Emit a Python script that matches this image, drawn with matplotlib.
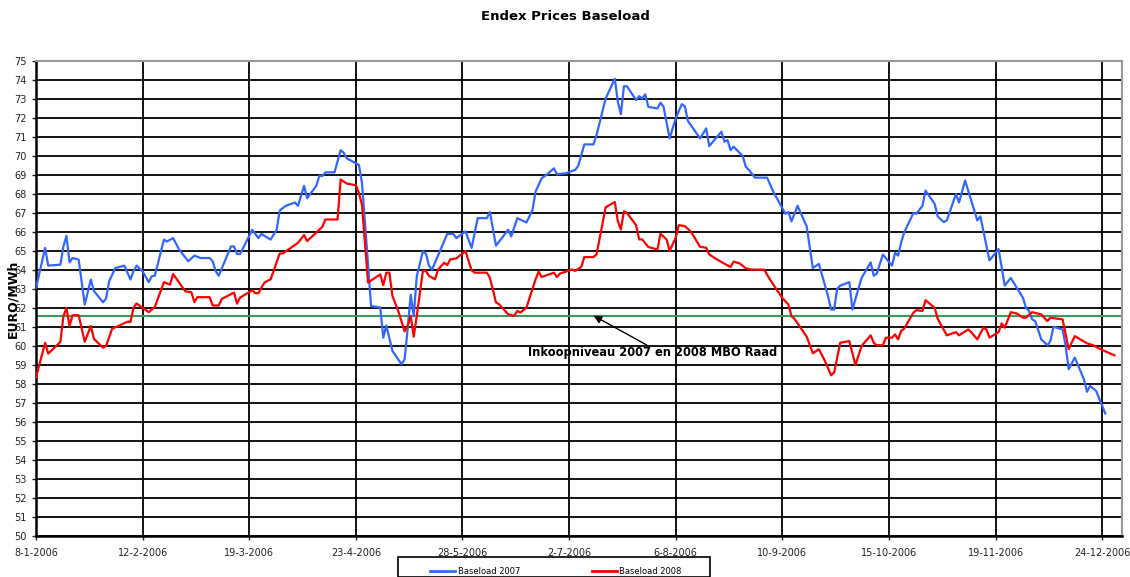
import numpy as np
import pandas as pd
import matplotlib
matplotlib.use("Agg")
import matplotlib.pyplot as plt
import matplotlib.dates as mdates
from matplotlib.lines import Line2D
from matplotlib.patches import Rectangle

# --- data ---
start_date = "2006-01-08"

# Baseload 2007: days after 8-1-2006 and price (EURO/MWh)
days_2007 = [0, 3, 4, 8, 9, 10, 11, 12, 14, 16, 18, 19, 22, 23, 24, 26, 29, 31, 32, 33,
             35, 37, 38, 39, 42, 43, 45, 47, 50, 52, 54, 57, 58, 59, 60, 64, 65, 66, 67, 71,
             73, 74, 77, 79, 80, 82, 85, 86, 88, 89, 92, 93, 94, 95, 98, 100, 101, 102, 104, 106,
             107, 108, 110, 113, 114, 115, 117, 120, 121, 122, 123, 124, 125, 127, 128, 129, 130, 135, 137, 138,
             141, 143, 145, 148, 149, 151, 155, 156, 158, 161, 163, 164, 166, 168, 170, 171, 174, 177, 178, 180,
             183, 184, 187, 190, 191, 192, 193, 194, 197, 198, 199, 200, 201, 204, 205, 206, 208, 210, 212, 213,
             214, 218, 220, 221, 225, 226, 227, 228, 229, 232, 233, 234, 236, 240, 242, 245, 246, 247, 248, 250,
             253, 255, 257, 260, 261, 262, 263, 264, 267, 268, 271, 274, 275, 276, 278, 281, 282, 283, 284, 285,
             288, 289, 291, 292, 295, 296, 298, 299, 302, 303, 305, 309, 310, 313, 316, 318, 320, 324, 325, 326,
             327, 328, 330, 332, 333, 334, 337, 338, 339, 341, 344, 345, 346, 348, 351]
price_2007 = [63.06, 65.16, 64.23, 64.28, 65.24, 65.8, 64.4, 64.63, 64.55, 62.18, 63.5, 62.9, 62.3, 62.5, 63.4, 64.1, 64.23, 63.5, 63.93, 64.23,
              63.93, 63.36, 63.67, 63.7, 65.6, 65.5, 65.68, 65.07, 64.46, 64.76, 64.63, 64.63, 64.46, 63.93, 63.7, 65.24, 65.24, 64.84, 64.84, 66.12,
              65.68, 65.9, 65.6, 66.12, 67.13, 67.38, 67.55, 67.38, 68.43, 67.78, 68.43, 68.95, 68.95, 69.14, 69.14, 70.31, 70.17, 69.88, 69.7, 69.53,
              68.6, 66.47, 62.1, 62.03, 60.44, 61.08, 59.74, 59.04, 59.3, 60.9, 62.7, 61.57, 63.67, 64.98, 64.86, 64.23, 64.02, 65.9, 65.9, 65.68,
              66.03, 65.16, 66.73, 66.73, 67.05, 65.28, 66.12, 65.77, 66.73, 66.5, 67.17, 68.13, 68.83, 69.06, 69.35, 69.04, 69.09, 69.27, 69.48, 70.61,
              70.61, 71.1, 73.02, 74.07, 72.85, 72.2, 73.67, 73.67, 72.94, 73.15, 73.02, 73.25, 72.59, 72.5, 72.81, 72.59, 70.93, 71.98, 72.73, 72.62,
              71.84, 70.93, 71.45, 70.52, 71.28, 70.75, 70.84, 70.31, 70.49, 70.0, 69.44, 69.27, 68.86, 68.86, 68.13, 67.26, 66.96, 67.05, 66.56, 67.38,
              66.29, 64.11, 64.32, 62.62, 61.92, 61.92, 63.0, 63.18, 63.36, 61.92, 63.58, 64.4, 63.7, 63.81, 64.81, 64.23, 64.9, 64.76, 65.45, 65.98,
              66.99, 66.96, 67.38, 68.18, 67.48, 66.82, 66.52, 66.61, 68.0, 67.55, 68.71, 66.61, 66.82, 64.51, 65.1, 63.18, 63.58, 62.53, 62.01, 61.84,
              61.4, 61.31, 60.35, 60.04, 60.26, 61.01, 60.87, 60.0, 58.78, 59.39, 58.25, 57.59, 57.9, 57.64, 56.45]

# Baseload 2008
days_2008 = [0, 3, 4, 8, 9, 10, 11, 12, 14, 16, 18, 19, 22, 23, 25, 27, 30, 31, 32, 33,
             37, 39, 42, 44, 45, 49, 51, 52, 53, 57, 58, 60, 61, 65, 66, 67, 71, 72, 73, 74,
             75, 77, 78, 80, 81, 86, 88, 89, 94, 95, 99, 100, 102, 105, 106, 107, 109, 113, 114, 115,
             116, 117, 119, 121, 122, 123, 124, 125, 127, 128, 129, 131, 132, 134, 135, 136, 138, 141, 143, 144,
             148, 149, 151, 152, 155, 157, 158, 159, 161, 164, 165, 166, 170, 171, 172, 176, 177, 179, 180, 183,
             184, 187, 190, 191, 192, 193, 194, 197, 198, 199, 201, 204, 205, 207, 208, 210, 211, 213, 215, 218,
             220, 221, 223, 226, 228, 229, 231, 233, 235, 239, 241, 243, 245, 247, 248, 249, 251, 253, 255, 257,
             259, 261, 262, 264, 267, 269, 271, 274, 275, 276, 278, 279, 281, 282, 283, 284, 285, 288, 289, 291,
             292, 295, 296, 299, 302, 303, 306, 307, 309, 311, 312, 313, 316, 317, 318, 320, 322, 324, 325, 327,
             330, 332, 333, 337, 338, 339, 341, 345, 347, 350, 354]
price_2008 = [58.34, 60.17, 59.6, 60.21, 61.57, 62.0, 61.05, 61.62, 61.62, 60.23, 61.05, 60.38, 59.91, 60.0, 60.91, 61.05, 61.28, 61.26, 62.01, 62.24,
              61.78, 62.05, 63.36, 63.23, 63.79, 62.88, 62.83, 62.31, 62.57, 62.57, 62.13, 62.13, 62.48, 62.81, 62.23, 62.55, 62.93, 62.78, 62.78, 63.07,
              63.34, 63.51, 63.95, 64.87, 64.87, 65.43, 65.84, 65.52, 66.27, 66.66, 66.66, 68.76, 68.55, 68.46, 68.06, 67.44, 63.34, 63.77, 63.2, 63.86,
              63.86, 62.64, 61.8, 60.77, 61.06, 61.59, 60.49, 61.59, 63.95, 63.95, 63.69, 63.51, 64.03, 64.38, 64.26, 64.56, 64.61, 65.0, 63.98, 63.86,
              63.86, 63.6, 62.29, 62.2, 61.67, 61.59, 61.85, 61.76, 62.02, 63.51, 63.91, 63.63, 63.86, 63.63, 63.81, 64.03, 63.95, 64.16, 64.68, 64.68,
              64.82, 67.3, 67.58, 66.57, 66.13, 67.09, 67.0, 66.36, 65.61, 65.61, 65.21, 65.08, 65.91, 65.61, 65.0, 65.7, 66.36, 66.31, 66.01, 65.22,
              65.17, 64.82, 64.61, 64.33, 64.16, 64.44, 64.35, 64.09, 64.02, 64.02, 63.49, 63.0, 62.53, 62.18, 61.57, 61.43, 60.96, 60.49, 59.62, 59.83,
              59.21, 58.46, 58.6, 60.17, 60.26, 58.99, 60.0, 60.56, 60.17, 60.04, 60.04, 60.44, 60.44, 60.61, 60.35, 60.79, 60.91, 61.75, 61.89, 61.84,
              62.41, 62.01, 61.43, 60.56, 60.73, 60.56, 60.87, 60.73, 60.35, 60.96, 60.87, 60.44, 60.73, 61.19, 60.96, 61.78, 61.71, 61.49, 61.49, 61.78,
              61.66, 61.31, 61.49, 61.4, 60.61, 59.83, 60.52, 60.14, 60.04, 59.79, 59.51]

purchase_level = 61.6
tick_labels = ["8-1-2006", "12-2-2006", "19-3-2006", "23-4-2006", "28-5-2006", "2-7-2006",
               "6-8-2006", "10-9-2006", "15-10-2006", "19-11-2006", "24-12-2006"]
annotation_text = "Inkoopniveau 2007 en 2008 MBO Raad"

# --- build dates ---
t0 = pd.Timestamp(start_date)
dates_2007 = t0 + pd.to_timedelta(days_2007, unit="D")
dates_2008 = t0 + pd.to_timedelta(days_2008, unit="D")
tick_dates = pd.to_datetime(tick_labels, format="%d-%m-%Y")

W, H = 1130, 577
fig = plt.figure(figsize=(W / 100, H / 100), dpi=100)
ax = fig.add_axes([36 / W, 1 - 536 / H, (1122 - 36) / W, (536 - 61) / H])

ax.plot(dates_2007, price_2007, color="#3366FF", lw=1.6, zorder=3, label="Baseload 2007")
ax.plot(dates_2008, price_2008, color="#FF0000", lw=1.6, zorder=3, label="Baseload 2008")
ax.axhline(purchase_level, color="#3A9A5B", lw=1.5, zorder=2)

ax.set_xlim(t0, t0 + pd.Timedelta(days=356.5))
ax.set_ylim(50, 75)
ax.set_yticks(np.arange(50, 76, 1))
ax.set_xticks(tick_dates)
ax.set_xticklabels(tick_labels)
ax.tick_params(axis="both", labelsize=7, colors="#222222", length=3, width=1)
ax.tick_params(axis="x", pad=6)
ax.grid(True, color="black", lw=1.3, zorder=1)
ax.set_axisbelow(True)

for side in ["top", "right"]:
    ax.spines[side].set_color("#999999")
    ax.spines[side].set_linewidth(1.5)
for side in ["bottom", "left"]:
    ax.spines[side].set_color("black")
    ax.spines[side].set_linewidth(1.8)

ax.set_ylabel("EURO/MWh", fontsize=9, fontweight="bold")
ax.yaxis.set_label_coords(-0.0155, 0.5)
fig.text(0.5, 1 - 17 / H, "Endex Prices Baseload", ha="center", va="center",
         fontsize=9.5, fontweight="bold")

# annotation arrow pointing to purchase level
ax.annotate("", xy=(t0 + pd.Timedelta(days=183), purchase_level),
            xytext=(t0 + pd.Timedelta(days=200.5), 60.05),
            arrowprops=dict(arrowstyle="-|>", color="black", lw=1, mutation_scale=12,
                            shrinkA=0, shrinkB=0), zorder=4)
ax.text(t0 + pd.Timedelta(days=161.5), 59.66, annotation_text, fontsize=8.3,
        fontweight="bold", ha="left", va="center", zorder=4)

# legend box at the bottom (cut by the figure edge like the original)
fig.patches.append(Rectangle((398 / W, 0), (710 - 398) / W, (H - 563) / H + 0.01,
                             transform=fig.transFigure, fill=False, edgecolor="black",
                             lw=1.2, clip_on=False))
handles = [Line2D([], [], color="#3366FF", lw=2), Line2D([], [], color="#FF0000", lw=2)]
fig.legend(handles, ["Baseload 2007", "Baseload 2008"], loc="center left",
           bbox_to_anchor=(430 / W, 1 - 571 / H), ncol=2, fontsize=6,
           frameon=False, handlelength=3, handletextpad=0.3, columnspacing=8.6,
           borderpad=0, borderaxespad=0)

fig.savefig("out.png", dpi=100)
